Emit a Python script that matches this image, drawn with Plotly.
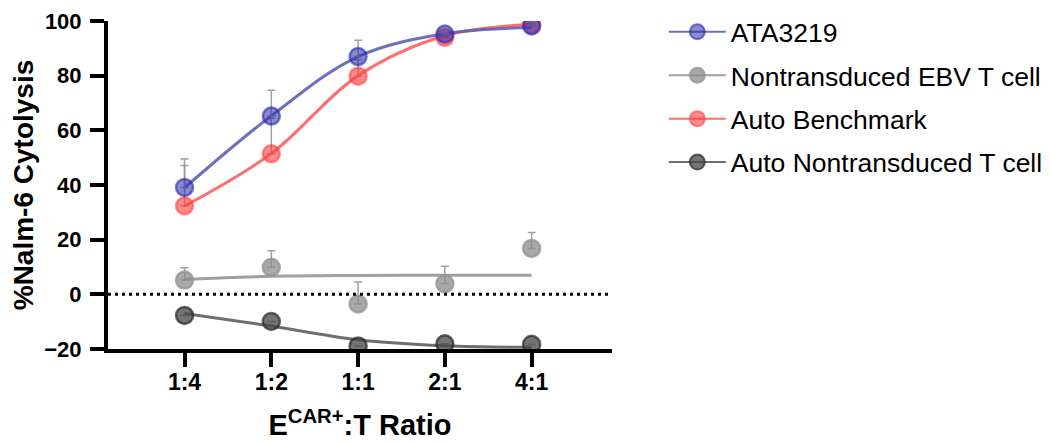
import plotly.graph_objects as go

ratios = ["1:4", "1:2", "1:1", "2:1", "4:1"]
xpos = [-2, -1, 0, 1, 2]  # log2 of E:T ratio

series_names = ["ATA3219", "Nontransduced EBV T cell", "Auto Benchmark", "Auto Nontransduced T cell"]

ata_mean = [39.1, 65.2, 87.0, 95.2, 98.2]
ata_err = [10.4, 9.5, 6.0, 0.5, 0.3]
ata_fit = [39.0, 65.3, 87.0, 95.3, 97.6]

ebv_mean = [5.2, 9.9, -3.5, 3.9, 16.8]
ebv_err = [4.5, 6.0, 8.0, 6.4, 5.8]
ebv_fit = [5.5, 6.6, 6.9, 7.0, 7.0]

bench_mean = [32.4, 51.4, 79.8, 94.0, 98.6]
bench_err = [14.7, 13.0, 6.0, 0.5, 0.3]
bench_fit = [32.3, 51.5, 80.0, 94.6, 98.8]

autont_mean = [-7.7, -9.9, -18.9, -18.1, -18.3]
autont_err = [0.0, 0.0, 0.0, 0.0, 0.0]
autont_fit = [-7.0, -11.6, -16.6, -18.8, -19.4]

styles = {
    "ATA3219": dict(fill="rgba(40,40,170,0.55)", edge="rgba(40,40,170,0.6)", line="rgba(95,95,185,0.9)"),
    "Nontransduced EBV T cell": dict(fill="rgba(140,140,140,0.75)", edge="rgba(150,150,150,0.8)", line="rgba(160,160,160,1)"),
    "Auto Benchmark": dict(fill="rgba(255,60,60,0.6)", edge="rgba(255,70,70,0.6)", line="rgba(255,110,110,1)"),
    "Auto Nontransduced T cell": dict(fill="rgba(70,70,70,0.75)", edge="rgba(40,40,40,0.7)", line="rgba(110,110,110,1)"),
}

data = {
    "ATA3219": (ata_mean, ata_err, ata_fit),
    "Nontransduced EBV T cell": (ebv_mean, ebv_err, ebv_fit),
    "Auto Benchmark": (bench_mean, bench_err, bench_fit),
    "Auto Nontransduced T cell": (autont_mean, autont_err, autont_fit),
}

FONT = "Liberation Sans, Arial, sans-serif"
fig = go.Figure()

draw_order = ["Auto Nontransduced T cell", "Nontransduced EBV T cell", "Auto Benchmark", "ATA3219"]
for name in draw_order:
    mean, err, fit = data[name]
    st = styles[name]
    fig.add_trace(go.Scatter(
        x=xpos, y=fit, mode="lines", line=dict(color=st["line"], width=3, shape="spline", smoothing=1.0),
        showlegend=False, hoverinfo="skip"))
    fig.add_trace(go.Scatter(
        x=xpos, y=mean, mode="markers",
        marker=dict(size=17, color=st["fill"], line=dict(color=st["edge"], width=2.5)),
        error_y=dict(type="data", array=err, arrayminus=[0] * len(err), symmetric=False,
                     color="rgba(150,150,150,0.9)", thickness=1.5, width=4),
        showlegend=False))

for i, name in enumerate(series_names):
    st = styles[name]
    fig.add_trace(go.Scatter(
        x=[None], y=[None], mode="lines+markers", name=name, legendgroup=name,
        line=dict(color=st["line"], width=2),
        marker=dict(size=15, color=st["fill"], line=dict(color=st["edge"], width=2)),
        legendrank=i + 1))

fig.add_shape(type="line", xref="paper", yref="y", x0=0, x1=1, y0=0, y1=0,
              line=dict(color="black", width=3, dash="3px,4px"))

fig.update_layout(
    width=1051, height=442,
    margin=dict(l=100, r=447, t=13, b=101),
    plot_bgcolor="white", paper_bgcolor="white",
    font=dict(family=FONT, color="black"),
    legend=dict(xref="container", yref="container", x=0.624, y=1.0, xanchor="left", yanchor="top",
                font=dict(family=FONT, size=26.5, color="black"),
                tracegroupgap=6, traceorder="grouped", bgcolor="rgba(0,0,0,0)", itemwidth=57),
    xaxis=dict(range=[-2.882, 2.926], tickvals=xpos, ticktext=ratios, showgrid=False, zeroline=False,
               showline=True, linecolor="black", linewidth=4, ticks="outside", ticklen=14, tickwidth=3.5,
               tickcolor="black", tickfont=dict(family=FONT, size=23, weight="bold"), ticklabelstandoff=-5,
               automargin=False, ticklabeloverflow="allow",
               title=dict(text="E<sup>CAR+</sup>:T Ratio", font=dict(family=FONT, size=29, weight="bold"), standoff=22)),
    yaxis=dict(range=[-20, 100], tickvals=[-20, 0, 20, 40, 60, 80, 100], showgrid=False, zeroline=False,
               showline=True, linecolor="black", linewidth=4, ticks="outside", ticklen=14, tickwidth=3.5,
               tickcolor="black", tickfont=dict(family=FONT, size=22, weight="bold"), ticklabelstandoff=4,
               automargin=False, ticklabeloverflow="allow",
               title=dict(text="%Nalm-6 Cytolysis", font=dict(family=FONT, size=28, weight="bold"), standoff=10)),
)

fig.write_html("out.html")
